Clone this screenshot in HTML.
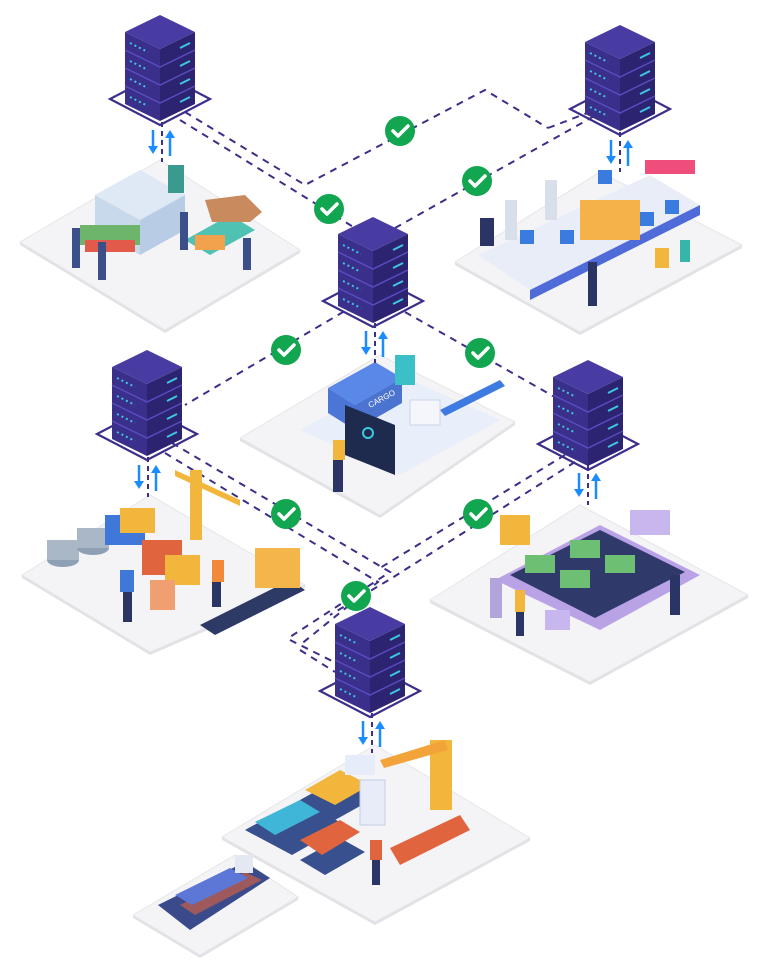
<!DOCTYPE html>
<html><head><meta charset="utf-8"><style>html,body{margin:0;padding:0;background:#fff}svg{display:block}</style></head>
<body>
<svg width="768" height="965" viewBox="0 0 768 965" xmlns="http://www.w3.org/2000/svg">
<defs>
<g id="srv">
  <polygon points="0,58 50,84 0,110 -50,84" fill="none" stroke="#3b2f8a" stroke-width="2.2"/>
  <polygon points="-35,17 0,34 0,106 -35,89" fill="#3a2f8a"/>
  <polygon points="0,34 35,17 35,89 0,106" fill="#2c2371"/>
  <polygon points="0,0 35,17 0,34 -35,17" fill="#483ca3"/>
  <g stroke="#5a4bc0" stroke-width="1.5">
    <polyline points="-35,35 0,52 35,35" fill="none"/>
    <polyline points="-35,53 0,70 35,53" fill="none"/>
    <polyline points="-35,71 0,88 35,71" fill="none"/>
  </g>
  <g stroke="#3ec8e0" stroke-width="2">
    <line x1="20" y1="33" x2="30" y2="28"/><line x1="20" y1="51" x2="30" y2="46"/>
    <line x1="20" y1="69" x2="30" y2="64"/><line x1="20" y1="87" x2="30" y2="82"/>
    <line x1="-30" y1="28" x2="-12" y2="37" stroke-dasharray="2 3"/>
    <line x1="-30" y1="46" x2="-12" y2="55" stroke-dasharray="2 3"/>
    <line x1="-30" y1="64" x2="-12" y2="73" stroke-dasharray="2 3"/>
    <line x1="-30" y1="82" x2="-12" y2="91" stroke-dasharray="2 3"/>
  </g>
</g>
<g id="arr">
  <line x1="0" y1="0" x2="0" y2="40" stroke="#3b2f8a" stroke-width="2" stroke-dasharray="5 4"/>
  <line x1="-9" y1="8" x2="-9" y2="28" stroke="#1a8cff" stroke-width="2.5"/>
  <polygon points="-14,24 -4,24 -9,32" fill="#1a8cff"/>
  <line x1="8" y1="14" x2="8" y2="34" stroke="#1a8cff" stroke-width="2.5"/>
  <polygon points="3,16 13,16 8,8" fill="#1a8cff"/>
</g>
<g id="chk">
  <circle r="15" fill="#12a650"/>
  <polyline points="-7,0 -2,5 8,-5" fill="none" stroke="#fff" stroke-width="3.5" stroke-linecap="round" stroke-linejoin="round"/>
</g>
</defs>

<!-- platform shadows -->
<g fill="#e2e2e6">
<polygon points="20,245 165,333 300,253 300,250 165,330 20,242"/>
<polygon points="455,265 580,335 742,248 742,245 580,332 455,262"/>
<polygon points="240,441 380,518 515,425 515,422 380,515 240,438"/>
<polygon points="22,578 150,655 305,588 305,585 150,652 22,575"/>
<polygon points="430,603 590,685 748,598 748,595 590,682 430,600"/>
<polygon points="222,840 375,925 530,841 530,838 375,922 222,837"/>
<polygon points="133,918 200,958 298,900 298,897 200,955 133,915"/>
</g>
<!-- platforms -->
<g fill="#f4f4f6" stroke="#e6e6ea" stroke-width="1">
<polygon points="20,242 160,160 300,250 165,330"/>
<polygon points="455,262 600,172 742,245 580,332"/>
<polygon points="240,438 380,355 515,422 380,515"/>
<polygon points="22,575 150,495 305,585 150,652"/>
<polygon points="430,600 580,505 748,595 590,682"/>
<polygon points="222,837 375,745 530,838 375,922"/>
<polygon points="133,915 235,855 298,897 200,955"/>
</g>

<!-- dashed connectors -->
<g fill="none" stroke="#3b2f8a" stroke-width="2" stroke-dasharray="7 6">
<polyline points="185,112 305,185 485,90 548,128"/>
<polyline points="180,120 355,228"/>
<polyline points="605,110 395,228"/>
<polyline points="548,128 590,112"/>
<polyline points="355,305 185,405"/>
<polyline points="405,312 560,400"/>
<polyline points="172,443 390,572 290,637"/>
<polyline points="165,453 378,582 300,645"/>
<polyline points="565,455 380,568"/>
<polyline points="575,462 392,578 330,615"/>
<polyline points="290,640 340,665"/>
<polyline points="300,650 335,672"/>
</g>

<!-- scene art: farm -->
<g>
<polygon points="95,195 140,170 185,195 140,220" fill="#dfe9f5"/>
<polygon points="95,195 140,220 140,255 95,230" fill="#c9d9ec"/>
<polygon points="140,220 185,195 185,230 140,255" fill="#b9cce6"/>
<rect x="80" y="225" width="60" height="20" fill="#6db56a"/>
<rect x="85" y="240" width="50" height="12" fill="#e25b4a"/>
<polygon points="185,240 230,215 255,230 210,255" fill="#4fc2b3"/>
<polygon points="205,200 245,195 262,212 250,222 212,222" fill="#c98a5e"/>
<rect x="168" y="165" width="16" height="28" fill="#3b9a8f"/>
<rect x="72" y="228" width="8" height="40" fill="#3b4f8a"/><rect x="98" y="242" width="8" height="38" fill="#3b4f8a"/>
<rect x="180" y="212" width="8" height="38" fill="#3b4f8a"/><rect x="243" y="238" width="8" height="32" fill="#3b4f8a"/>
<rect x="195" y="235" width="30" height="15" fill="#f2a14c"/>
</g>
<!-- factory top right -->
<g>
<polygon points="478,255 650,175 700,205 530,290" fill="#e9edf7"/>
<polygon points="530,290 700,205 700,215 530,300" fill="#4f6bd8"/>
<rect x="580" y="200" width="60" height="40" fill="#f6b24a"/>
<rect x="520" y="230" width="14" height="14" fill="#3a7be0"/><rect x="560" y="230" width="14" height="14" fill="#3a7be0"/>
<rect x="640" y="212" width="14" height="14" fill="#3a7be0"/><rect x="665" y="200" width="14" height="14" fill="#3a7be0"/>
<rect x="598" y="170" width="14" height="14" fill="#3a7be0"/>
<rect x="505" y="200" width="12" height="40" fill="#d8deea"/><rect x="545" y="180" width="12" height="40" fill="#d8deea"/>
<rect x="645" y="160" width="50" height="14" fill="#ef4e7a"/>
<rect x="480" y="218" width="14" height="28" fill="#2a3566"/>
<rect x="588" y="262" width="9" height="44" fill="#2a3566"/><rect x="655" y="248" width="14" height="20" fill="#f2b63c"/>
<rect x="680" y="240" width="10" height="22" fill="#37b5a8"/>
</g>
<!-- cargo center -->
<g>
<polygon points="300,430 400,375 500,420 400,475" fill="#e9eefb"/>
<polygon points="328,388 375,362 402,378 355,405" fill="#5a88e8"/>
<polygon points="328,388 355,405 355,430 328,413" fill="#4b76d6"/>
<polygon points="355,405 402,378 402,403 355,430" fill="#4a74d0"/>
<text x="370" y="408" font-family="Liberation Sans, sans-serif" font-size="8" fill="#fff" transform="rotate(-28 370 408)">CARGO</text>
<rect x="395" y="355" width="20" height="30" fill="#3cc0c8"/>
<polygon points="345,405 395,425 395,475 345,455" fill="#1e2b4e"/>
<circle cx="368" cy="433" r="5" fill="none" stroke="#3ec8e0" stroke-width="2"/>
<polygon points="440,410 500,380 505,386 445,416" fill="#3e7ae0"/>
<rect x="410" y="400" width="30" height="25" fill="#f4f6fb" stroke="#ccd4e8"/>
<rect x="333" y="440" width="12" height="20" fill="#f2b63c"/><rect x="333" y="460" width="10" height="32" fill="#2a3566"/>
</g>
<!-- left scene -->
<g>
<ellipse cx="63" cy="560" rx="16" ry="7" fill="#8fa0b4"/><rect x="47" y="540" width="32" height="20" fill="#a9b7c7"/>
<ellipse cx="93" cy="548" rx="16" ry="7" fill="#8fa0b4"/><rect x="77" y="528" width="32" height="20" fill="#a9b7c7"/>
<rect x="105" y="515" width="40" height="30" fill="#3f78d8"/><rect x="120" y="508" width="35" height="25" fill="#f2b63c"/>
<rect x="142" y="540" width="40" height="35" fill="#e0643e"/>
<rect x="190" y="470" width="12" height="70" fill="#f2b63c"/><polygon points="175,470 240,500 240,506 175,476" fill="#f2b63c"/>
<rect x="165" y="555" width="35" height="30" fill="#f2b63c"/>
<rect x="150" y="580" width="25" height="30" fill="#f0a070"/>
<polygon points="200,625 290,580 305,590 215,635" fill="#2e3a66"/>
<rect x="255" y="548" width="45" height="40" fill="#f4b64a"/>
<rect x="120" y="570" width="14" height="22" fill="#3f78d8"/><rect x="123" y="592" width="9" height="30" fill="#2a3566"/>
<rect x="212" y="560" width="12" height="22" fill="#f08a3a"/><rect x="212" y="582" width="9" height="25" fill="#2a3566"/>
</g>
<!-- right scene -->
<g>
<polygon points="495,580 600,525 700,575 600,630" fill="#b9a3e6"/>
<polygon points="510,575 600,530 685,572 595,618" fill="#2f3a6a"/>
<rect x="525" y="555" width="30" height="18" fill="#6dbf74"/><rect x="560" y="570" width="30" height="18" fill="#6dbf74"/>
<rect x="570" y="540" width="30" height="18" fill="#6dbf74"/><rect x="605" y="555" width="30" height="18" fill="#6dbf74"/>
<rect x="500" y="515" width="30" height="30" fill="#f2b63c"/>
<rect x="630" y="510" width="40" height="25" fill="#c8b6ee"/>
<rect x="545" y="610" width="25" height="20" fill="#c8b6ee"/>
<rect x="490" y="578" width="12" height="40" fill="#b3a3dd"/><rect x="515" y="590" width="10" height="22" fill="#f2b63c"/>
<rect x="516" y="612" width="8" height="24" fill="#2a3566"/><rect x="670" y="575" width="10" height="40" fill="#2a3566"/>
</g>
<!-- bottom scene -->
<g>
<polygon points="245,830 300,800 345,825 292,855" fill="#39508f"/>
<polygon points="255,822 300,800 320,812 275,835" fill="#3fb6d8"/>
<polygon points="300,800 345,775 380,795 335,820" fill="#39508f"/>
<polygon points="305,790 340,770 370,785 335,805" fill="#f2b63c"/>
<polygon points="300,860 340,838 365,852 325,875" fill="#39508f"/>
<polygon points="300,840 340,820 360,832 322,855" fill="#e0643e"/>
<rect x="360" y="780" width="25" height="45" fill="#e8ecf8" stroke="#c5cde6"/>
<polygon points="390,848 460,815 470,830 400,865" fill="#e0643e"/>
<rect x="430" y="740" width="22" height="70" fill="#f2b63c"/>
<polygon points="380,760 445,740 448,750 384,768" fill="#f2a43a"/>
<rect x="370" y="840" width="12" height="20" fill="#e0643e"/><rect x="372" y="860" width="8" height="25" fill="#2a3566"/>
<rect x="345" y="755" width="30" height="20" fill="#e6ecfa"/>
<polygon points="158,905 245,862 270,878 190,930" fill="#3a4a8a"/>
<polygon points="180,905 245,872 262,880 195,915" fill="#e0643e" opacity=".6"/>
<polygon points="175,895 230,868 248,878 192,905" fill="#5d77d6"/>
<rect x="235" y="855" width="18" height="18" fill="#e4e8f2"/>
</g>

<!-- servers -->
<use href="#srv" x="160" y="15"/>
<use href="#srv" x="620" y="25"/>
<use href="#srv" x="373" y="217"/>
<use href="#srv" x="147" y="350"/>
<use href="#srv" x="588" y="360"/>
<use href="#srv" x="370" y="607"/>

<!-- arrows -->
<use href="#arr" x="162" y="122"/>
<use href="#arr" x="620" y="132"/>
<use href="#arr" x="375" y="323"/>
<use href="#arr" x="148" y="457"/>
<use href="#arr" x="588" y="465"/>
<use href="#arr" x="372" y="713"/>

<!-- checks -->
<use href="#chk" x="400" y="131"/>
<use href="#chk" x="477" y="181"/>
<use href="#chk" x="329" y="209"/>
<use href="#chk" x="286" y="350"/>
<use href="#chk" x="480" y="353"/>
<use href="#chk" x="286" y="514"/>
<use href="#chk" x="478" y="514"/>
<use href="#chk" x="356" y="596"/>
</svg>
</body></html>
